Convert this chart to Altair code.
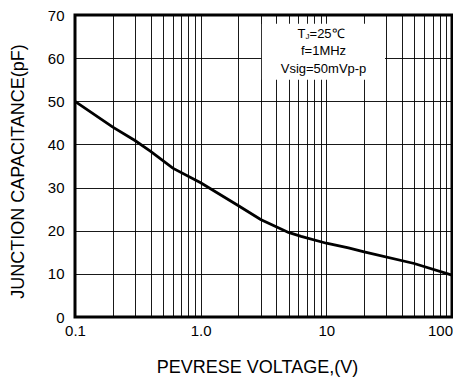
import altair as alt
import pandas as pd

# Curve data
voltage = [0.1, 0.2, 0.3, 0.4, 0.6, 1.0, 2.0, 3.0, 5.0, 6.3, 10.0, 15.0, 20.0, 50.0, 100.0]
capacitance = [50.0, 44.0, 40.9, 38.4, 34.5, 31.1, 25.8, 22.6, 19.6, 18.7, 17.1, 16.0, 15.1, 12.4, 9.7]

# Axis values
x_grid = [0.1, 0.2, 0.3, 0.4, 0.5, 0.6, 0.7, 0.8, 0.9,
          1, 2, 3, 4, 5, 6, 7, 8, 9,
          10, 20, 30, 40, 50, 60, 70, 80, 90, 100]
y_ticks = [0, 10, 20, 30, 40, 50, 60, 70]

# Annotation
note_lines = ["f=1MHz", "Vsig=50mVp-p"]
note_y = [61.6, 57.4]
note_x = 9.5
box = {"x": 3.07, "x2": 29.3, "y": 55.0, "y2": 68.0}

FONT = "Liberation Sans"

curve = pd.DataFrame({"v": voltage, "c": capacitance})

xscale = alt.Scale(type="log", domain=[0.1, 100], nice=False)
yscale = alt.Scale(domain=[0, 70], nice=False)

x_axis = alt.Axis(
    values=x_grid,
    labelExpr="datum.value == 0.1 ? '0.1' : datum.value == 1 ? '1.0' : datum.value == 10 ? '10' : datum.value == 100 ? '100' : ''",
    labelOverlap=False, labelFlush=False,
    grid=True, gridColor="#000000", gridWidth=1, gridOpacity=0.9,
    ticks=False, domain=False,
    labelFont=FONT, labelFontSize=15, labelColor="#000000", labelPadding=6,
    labelOffset={"condition": {"test": "datum.value == 100", "value": -12}, "value": 0},
    title="PEVRESE VOLTAGE,(V)", titleFont=FONT, titleFontSize=18,
    titleFontWeight="normal", titleColor="#000000",
    titleX=182, titleY=55, titleBaseline="alphabetic", titleAlign="center",
)
y_axis = alt.Axis(
    values=y_ticks, grid=True, gridColor="#000000", gridWidth=1, gridOpacity=0.9,
    ticks=False, domain=False,
    labelFont=FONT, labelFontSize=15, labelColor="#000000", labelPadding=11,
    title="JUNCTION CAPACITANCE(pF)", titleFont=FONT, titleFontSize=18,
    titleFontWeight="normal", titleColor="#000000",
    titleX=-52, titleY=156, titleBaseline="alphabetic", titleAlign="center", titleAngle=270,
)

line = alt.Chart(curve).mark_line(color="#000000", strokeWidth=2.8).encode(
    x=alt.X("v:Q", scale=xscale, axis=x_axis),
    y=alt.Y("c:Q", scale=yscale, axis=y_axis),
)

box_df = pd.DataFrame([box])
rect = alt.Chart(box_df).mark_rect(color="#ffffff").encode(
    x=alt.X("x:Q", scale=xscale), x2="x2:Q",
    y=alt.Y("y:Q", scale=yscale), y2="y2:Q",
)

notes = alt.Chart(pd.DataFrame({"t": note_lines, "x": [note_x] * 2, "y": note_y})).mark_text(
    font=FONT, fontSize=13, color="#000000", align="center", baseline="middle"
).encode(x=alt.X("x:Q", scale=xscale), y=alt.Y("y:Q", scale=yscale), text="t:N")

row1 = pd.DataFrame({"x": [note_x], "y": [65.6]})
t_main = alt.Chart(row1).mark_text(
    font=FONT, fontSize=13, color="#000000", align="right", baseline="middle", dx=-18, text="T"
).encode(x=alt.X("x:Q", scale=xscale), y=alt.Y("y:Q", scale=yscale))
t_sub = alt.Chart(row1).mark_text(
    font=FONT, fontSize=8, color="#000000", align="left", baseline="middle", dx=-18, dy=3, text="J"
).encode(x=alt.X("x:Q", scale=xscale), y=alt.Y("y:Q", scale=yscale))
t_rest = alt.Chart(row1).mark_text(
    font=FONT, fontSize=13, color="#000000", align="left", baseline="middle", dx=-14, text="=25℃"
).encode(x=alt.X("x:Q", scale=xscale), y=alt.Y("y:Q", scale=yscale))

chart = alt.layer(rect, line, notes, t_main, t_sub, t_rest).properties(
    width=377, height=302,
    autosize=alt.AutoSizeParams(type="none"),
    padding={"left": 67, "top": 7, "right": 1, "bottom": 62},
    background="#ffffff",
).configure_view(stroke="#000000", strokeWidth=3)

chart.save("out.html", embed_options={"renderer": "svg", "actions": False})
